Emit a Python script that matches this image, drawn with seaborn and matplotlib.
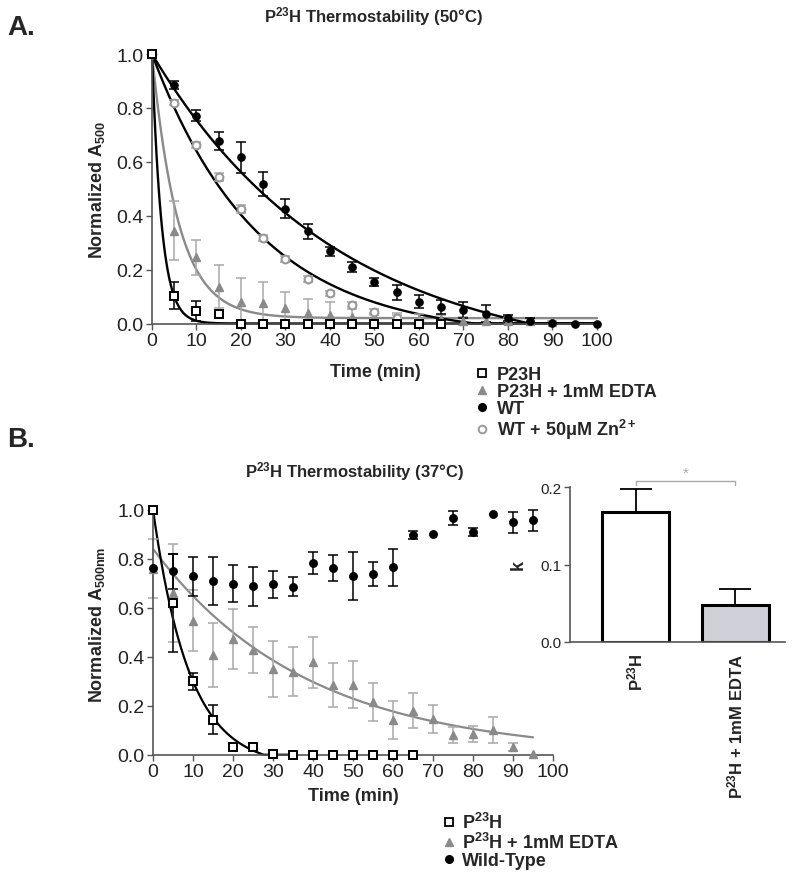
import numpy as np
import matplotlib
matplotlib.use("Agg")
import matplotlib.pyplot as plt
import seaborn as sns
from matplotlib.lines import Line2D

# ---------------- data ----------------
# Panel A (50 C)
time_a = [0, 5, 10, 15, 20, 25, 30, 35, 40, 45, 50, 55, 60, 65, 70, 75, 80, 85, 90, 95, 100]
p23h_a = [1.0, 0.103, 0.047, 0.035, 0, 0, 0, 0, 0, 0, 0, 0, 0, 0]
p23h_a_err = [0, 0.05, 0.037, 0, 0, 0, 0, 0, 0, 0, 0, 0, 0, 0]
edta_a = [1.0, 0.345, 0.246, 0.137, 0.078, 0.075, 0.058, 0.04, 0.033, 0.025, 0.02, 0.02,
          0.015, 0.015, 0.01, 0.01, 0.01, 0.01, 0.005]
edta_a_err = [0, 0.11, 0.065, 0.08, 0.09, 0.078, 0.06, 0.05, 0.045, 0.03, 0.02, 0.02,
              0.02, 0.015, 0.015, 0.01, 0.01, 0.01, 0.005]
wt_a = [1.0, 0.886, 0.771, 0.677, 0.616, 0.518, 0.426, 0.342, 0.268, 0.211, 0.155, 0.116,
        0.08, 0.062, 0.05, 0.037, 0.021, 0.01, 0.003, 0.0, 0.0]
wt_a_err = [0, 0.015, 0.021, 0.035, 0.058, 0.045, 0.035, 0.027, 0.017, 0.019, 0.015, 0.027,
            0.024, 0.027, 0.031, 0.033, 0.01, 0.01, 0, 0, 0]
zn_a = [1.0, 0.82, 0.662, 0.542, 0.424, 0.317, 0.24, 0.165, 0.112, 0.07, 0.043, 0.022, 0.01]
zn_a_err = [0, 0.01, 0.01, 0.015, 0.015, 0.01, 0.01, 0.01, 0.01, 0.01, 0.01, 0.01, 0.005]
# fitted decay parameters (amplitude, rate, plateau)
fit_a = {"P23H": (1.0, 0.46, 0.0), "EDTA": (0.98, 0.17, 0.02),
         "WT": (1.15, 0.024, -0.15), "Zn": (1.05, 0.042, -0.05)}

# Panel B (37 C)
time_b = [0, 5, 10, 15, 20, 25, 30, 35, 40, 45, 50, 55, 60, 65, 70, 75, 80, 85, 90, 95]
p23h_b = [1.0, 0.618, 0.30, 0.143, 0.03, 0.03, 0.003, 0, 0, 0, 0, 0, 0, 0]
p23h_b_err = [0, 0.2, 0.035, 0.06, 0, 0, 0, 0, 0, 0, 0, 0, 0, 0]
edta_b = [0.76, 0.659, 0.547, 0.408, 0.472, 0.427, 0.35, 0.339, 0.377, 0.286, 0.286, 0.216,
          0.143, 0.18, 0.146, 0.08, 0.084, 0.102, 0.03, 0.003]
edta_b_err = [0.12, 0.2, 0.125, 0.13, 0.124, 0.093, 0.116, 0.1, 0.103, 0.09, 0.095, 0.078,
              0.077, 0.07, 0.057, 0.032, 0.034, 0.053, 0.016, 0]
wt_b = [0.762, 0.748, 0.728, 0.709, 0.698, 0.687, 0.695, 0.686, 0.781, 0.762, 0.729, 0.737,
        0.765, 0.898, 0.90, 0.967, 0.908, 0.981, 0.948, 0.957]
wt_b_err = [0, 0.07, 0.08, 0.097, 0.076, 0.079, 0.056, 0.04, 0.045, 0.053, 0.097, 0.05,
            0.075, 0.016, 0, 0.029, 0.016, 0, 0.044, 0.042]
fit_b = {"P23H": (1.05, 0.11, -0.05, 35), "EDTA": (0.84, 0.026, 0.0, 95)}

# Bar inset: rate constants
bar_labels = [r"P$^{\mathbf{23}}$H", r"P$^{\mathbf{23}}$H + 1mM EDTA"]
bar_k = [0.168, 0.048]
bar_err = [0.03, 0.02]

# ---------------- style ----------------
sns.set_theme(style="ticks")
plt.rcParams["font.family"] = ["Liberation Sans", "DejaVu Sans"]
plt.rcParams["mathtext.fontset"] = "custom"
plt.rcParams["mathtext.rm"] = "Liberation Sans"
plt.rcParams["mathtext.bf"] = "Liberation Sans:bold"
plt.rcParams["mathtext.it"] = "Liberation Sans:italic"

SP = "#555555"
GRAY = "#8a8a8a"
LGRAY = "#a8a8a8"

W, H = 804, 879
fig = plt.figure(figsize=(W / 100, H / 100), dpi=100)


def fx(px):
    return px / W


def fy(py):
    return 1 - py / H


def style_axes(ax, fs=14):
    sns.despine(ax=ax)
    for s in ("left", "bottom"):
        ax.spines[s].set_color(SP)
        ax.spines[s].set_linewidth(1.2)
    ax.tick_params(axis="both", colors=SP, labelcolor="#222222", labelsize=fs,
                   length=4, width=1, pad=2)


def fit(x, A, k, p):
    return np.maximum(A * np.exp(-k * x) + p, 0)


def errs(ax, x, y, e, color):
    x = np.asarray(x, float); y = np.asarray(y, float); e = np.asarray(e, float)
    m = e > 0
    ax.errorbar(x[m], y[m], yerr=e[m], fmt="none", ecolor=color, elinewidth=1.1,
                capsize=3.8, capthick=1.1, clip_on=False, zorder=2)


# ---------------- Panel A ----------------
axA = fig.add_axes([fx(152), fy(324.5), fx(597) - fx(152), fy(55) - fy(324.5)])
style_axes(axA)
xs = np.linspace(0, 100, 400)
for key, col in (("EDTA", GRAY), ("P23H", "black"), ("Zn", "black"), ("WT", "black")):
    A, k, p = fit_a[key]
    sns.lineplot(x=xs, y=fit(xs, A, k, p), ax=axA, color=col, lw=1.7, clip_on=False, zorder=1)

n = len(edta_a); errs(axA, time_a[:n], edta_a, edta_a_err, LGRAY)
n = len(zn_a); errs(axA, time_a[:n], zn_a, zn_a_err, LGRAY)
n = len(wt_a); errs(axA, time_a[:n], wt_a, wt_a_err, "black")
n = len(p23h_a); errs(axA, time_a[:n], p23h_a, p23h_a_err, "black")

axA.plot(time_a[:len(edta_a)], edta_a, ls="none", marker="^", ms=6.2, color=GRAY, mec=GRAY, clip_on=False, zorder=3)
axA.plot(time_a[:len(zn_a)], zn_a, ls="none", marker="o", ms=5.6, mfc="white", mec="#999999", mew=1.5, clip_on=False, zorder=3)
axA.plot(time_a[:len(wt_a)], wt_a, ls="none", marker="o", ms=5.2, color="black", clip_on=False, zorder=4)
axA.plot(time_a[:len(p23h_a)], p23h_a, ls="none", marker="s", ms=5.6, mfc="white", mec="black", mew=1.4, clip_on=False, zorder=5)

axA.set_xlim(0, 100)
axA.set_ylim(0, 1.0)
axA.set_xticks(range(0, 101, 10))
axA.set_yticks([0, 0.2, 0.4, 0.6, 0.8, 1.0])
axA.set_yticklabels(["0.0", "0.2", "0.4", "0.6", "0.8", "1.0"])
axA.set_xlabel("")
axA.set_ylabel("")

fig.text(fx(7), fy(28), "A.", fontsize=20, fontweight="bold", va="center", ha="left")
fig.text(fx(374), fy(17), r"P$^{\mathbf{23}}$H Thermostability (50°C)", fontsize=12,
         fontweight="bold", ha="center", va="center")
fig.text(fx(97), fy(190), r"Normalized A$_{\mathbf{500}}$", fontsize=13, fontweight="bold",
         rotation=90, ha="center", va="center")
fig.text(fx(375), fy(373), "Time (min)", fontsize=13, fontweight="bold", ha="center", va="center")

hA = [Line2D([], [], ls="none", marker="s", ms=5.5, mfc="white", mec="black", mew=1.3),
      Line2D([], [], ls="none", marker="^", ms=6, color=GRAY),
      Line2D([], [], ls="none", marker="o", ms=5.5, color="black"),
      Line2D([], [], ls="none", marker="o", ms=5.5, mfc="white", mec="#999999", mew=1.4)]
lA = ["P23H", "P23H + 1mM EDTA", "WT", r"WT + 50μM Zn$^{\mathbf{2+}}$"]
fig.legend(hA, lA, loc="upper left", bbox_to_anchor=(fx(477), fy(367)), frameon=False,
           borderpad=0, borderaxespad=0, handlelength=0.6, handletextpad=0.5,
           labelspacing=0.0, prop={"weight": "bold", "size": 13})

# ---------------- Panel B ----------------
axB = fig.add_axes([fx(153), fy(755.7), fx(553) - fx(153), fy(510.7) - fy(755.7)])
style_axes(axB)
for key, col in (("EDTA", GRAY), ("P23H", "black")):
    A, k, p, xe = fit_b[key]
    xb = np.linspace(0, xe, 300)
    sns.lineplot(x=xb, y=fit(xb, A, k, p), ax=axB, color=col, lw=1.6, clip_on=False, zorder=1)

errs(axB, time_b[:len(edta_b)], edta_b, edta_b_err, LGRAY)
errs(axB, time_b[:len(p23h_b)], p23h_b, p23h_b_err, "black")
errs(axB, time_b[:len(wt_b)], wt_b, wt_b_err, "black")
axB.plot(time_b[:len(edta_b)], edta_b, ls="none", marker="^", ms=6.2, color=GRAY, clip_on=False, zorder=3)
axB.plot(time_b[:len(p23h_b)], p23h_b, ls="none", marker="s", ms=5.6, mfc="white", mec="black", mew=1.4, clip_on=False, zorder=4)
axB.plot(time_b[:len(wt_b)], wt_b, ls="none", marker="o", ms=5.4, color="black", clip_on=False, zorder=5)
axB.set_xlim(0, 100)
axB.set_ylim(0, 1.0)
axB.set_xticks(range(0, 101, 10))
axB.set_yticks([0, 0.2, 0.4, 0.6, 0.8, 1.0])
axB.set_yticklabels(["0.0", "0.2", "0.4", "0.6", "0.8", "1.0"])
axB.set_xlabel("")
axB.set_ylabel("")

fig.text(fx(7), fy(440), "B.", fontsize=20, fontweight="bold", va="center", ha="left")
fig.text(fx(355), fy(472), r"P$^{\mathbf{23}}$H Thermostability (37°C)", fontsize=12,
         fontweight="bold", ha="center", va="center")
fig.text(fx(97), fy(625), r"Normalized A$_{\mathbf{500nm}}$", fontsize=13, fontweight="bold",
         rotation=90, ha="center", va="center")
fig.text(fx(353), fy(797), "Time (min)", fontsize=13, fontweight="bold", ha="center", va="center")

hB = [Line2D([], [], ls="none", marker="s", ms=5.5, mfc="white", mec="black", mew=1.3),
      Line2D([], [], ls="none", marker="^", ms=6, color=GRAY),
      Line2D([], [], ls="none", marker="o", ms=5.5, color="black")]
lB = [r"P$^{\mathbf{23}}$H", r"P$^{\mathbf{23}}$H + 1mM EDTA", "Wild-Type"]
fig.legend(hB, lB, loc="upper left", bbox_to_anchor=(fx(444), fy(813)), frameon=False,
           borderpad=0, borderaxespad=0, handlelength=0.6, handletextpad=0.4,
           labelspacing=0.0, prop={"weight": "bold", "size": 13})

# ---------------- Inset bar ----------------
axI = fig.add_axes([fx(570), fy(642.7), fx(785) - fx(570), fy(488.3) - fy(642.7)])
sns.barplot(x=list(range(len(bar_k))), y=bar_k, ax=axI, palette=["white", "#cfd0d9"],
            hue=list(range(len(bar_k))), legend=False, edgecolor="black", linewidth=2.2,
            width=0.67, native_scale=True)
axI.errorbar(range(len(bar_k)), bar_k, yerr=[[0] * len(bar_err), bar_err], fmt="none",
             ecolor="black", elinewidth=1.3, capsize=11.5, capthick=1.3, clip_on=False, zorder=1)
style_axes(axI, fs=11)
axI.set_xlim(-0.66, 1.5)
axI.set_ylim(0, 0.2)
axI.set_yticks([0, 0.1, 0.2])
axI.set_yticklabels(["0.0", "0.1", "0.2"])
axI.set_xticks([0, 1])
axI.set_xticklabels(bar_labels, rotation=90, fontsize=12, fontweight="bold", va="top", ha="center")
axI.tick_params(axis="x", length=0, pad=8)
axI.set_xlabel("")
axI.set_ylabel("k", fontsize=13, fontweight="bold", labelpad=10)
# significance bracket
yb = 0.2078
axI.plot([0, 0, 1, 1], [yb - 0.005, yb, yb, yb - 0.005], color=LGRAY, lw=1, clip_on=False)
axI.text(0.5, yb + 0.002, "*", color=LGRAY, fontsize=11, ha="center", va="bottom")

fig.savefig("out.png", dpi=100)
